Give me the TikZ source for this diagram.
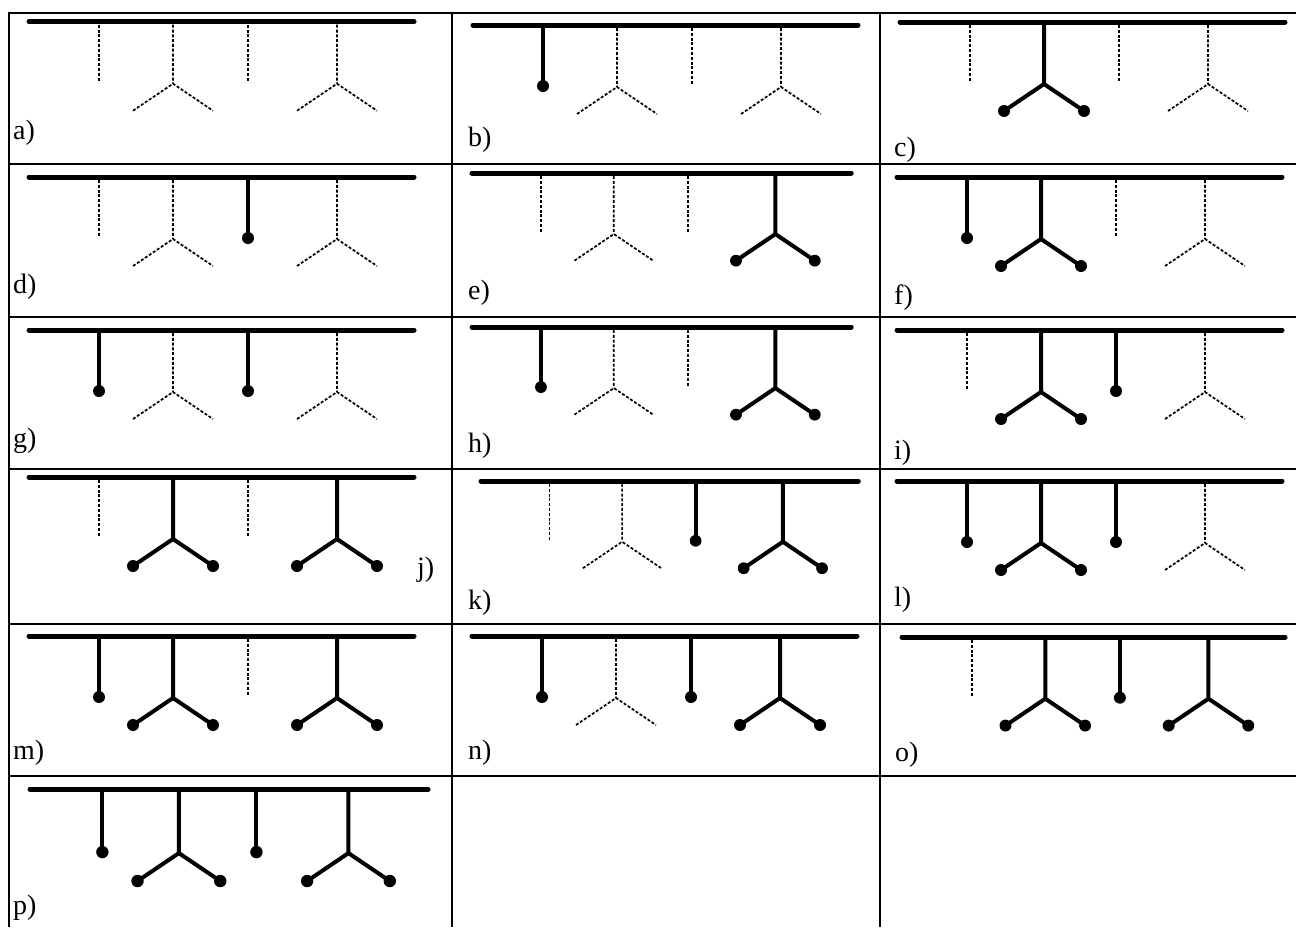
\documentclass[tikz,border=0pt]{standalone}
\usepackage{fontspec}
\setmainfont{Liberation Serif}
\tikzset{
  tbl/.style={line width=2pt},
  bar/.style={line width=5pt, line cap=round},
  solidstem/.style={line width=4pt, line join=round},
  dashstem/.style={line width=1.7pt, dash pattern=on 3pt off 1.8pt},
  blob/.style={fill=black},
  lbl/.style={anchor=west, inner sep=0pt, font=\fontsize{28}{30}\selectfont},
}
\newcommand\singlestem[2]{%
  \ifnum#2=1
    \draw[solidstem] (#1,0) -- (#1,61);
    \fill[blob] (#1,61) circle[radius=6pt];
  \else
    \draw[dashstem] (#1,3) -- (#1,60);
  \fi}
\newcommand\forkstem[2]{%
  \ifnum#2=1
    \draw[solidstem] (#1,0) -- (#1,62) (#1-40,89) -- (#1,62) -- (#1+40,89);
    \fill[blob] (#1-40,89) circle[radius=6pt] (#1+40,89) circle[radius=6pt];
  \else
    \draw[dashstem] (#1,3) -- (#1,62) (#1-40,89) -- (#1,62) -- (#1+40,89);
  \fi}
\newcommand\config[7]{%
  \begin{scope}[shift={(#1,#2)}, scale=#3]
    \singlestem{70}{#4}
    \forkstem{144}{#5}
    \singlestem{219}{#6}
    \forkstem{308}{#7}
    \draw[bar] (0,0) -- (385,0);
  \end{scope}}
\begin{document}
\begin{tikzpicture}[x=1pt, y=-1pt]
\useasboundingbox (0,0) rectangle (1296,927);
% table
\foreach \yy in {12.5,164,317,469,624,776}
  \draw[tbl] (8,\yy) -- (1296,\yy);
\foreach \xx in {9,452,880}
  \draw[tbl] (\xx,11.5) -- (\xx,927);
% configurations
\config{29}{21.7}{1}{0}{0}{0}{0}
\config{473}{25}{1}{1}{0}{0}{0}
\config{900}{22}{1}{0}{1}{0}{0}
\config{29}{177}{1}{0}{0}{1}{0}
\config{472}{173}{0.985}{0}{0}{0}{1}
\config{897}{177}{1}{1}{1}{0}{0}
\config{29}{330}{1}{1}{0}{1}{0}
\config{472}{327}{0.985}{1}{0}{0}{1}
\config{897}{330}{1}{0}{1}{1}{0}
\config{29}{477}{1}{0}{1}{0}{1}
\config{481}{481}{0.98}{0}{0}{1}{1}
\config{897}{481}{1}{1}{1}{1}{0}
\config{29}{636}{1}{1}{1}{0}{1}
\config{472}{636}{1}{1}{0}{1}{1}
\config{902}{637}{0.995}{0}{1}{1}{1}
\config{30}{789}{1.034}{1}{1}{1}{1}
% labels
\node[lbl] (la) at (13,133) {a)};
\node[lbl] (lb) at (468,140) {b)};
\node[lbl] (lc) at (894,150) {c)};
\node[lbl] (ld) at (13,287) {d)};
\node[lbl] (le) at (468,293) {e)};
\node[lbl] (lf) at (894,298) {f)};
\node[lbl] (lg) at (13,441) {g)};
\node[lbl] (lh) at (468,446) {h)};
\node[lbl] (li) at (894,453) {i)};
\node[lbl] (lj) at (417,570) {j)};
\node[lbl] (lk) at (468,603) {k)};
\node[lbl] (ll) at (894,600) {l)};
\node[lbl] (lm) at (13,753) {m)};
\node[lbl] (ln) at (468,753) {n)};
\node[lbl] (lo) at (895,755) {o)};
\node[lbl] (lp) at (13,908) {p)};
\end{tikzpicture}
\end{document}
